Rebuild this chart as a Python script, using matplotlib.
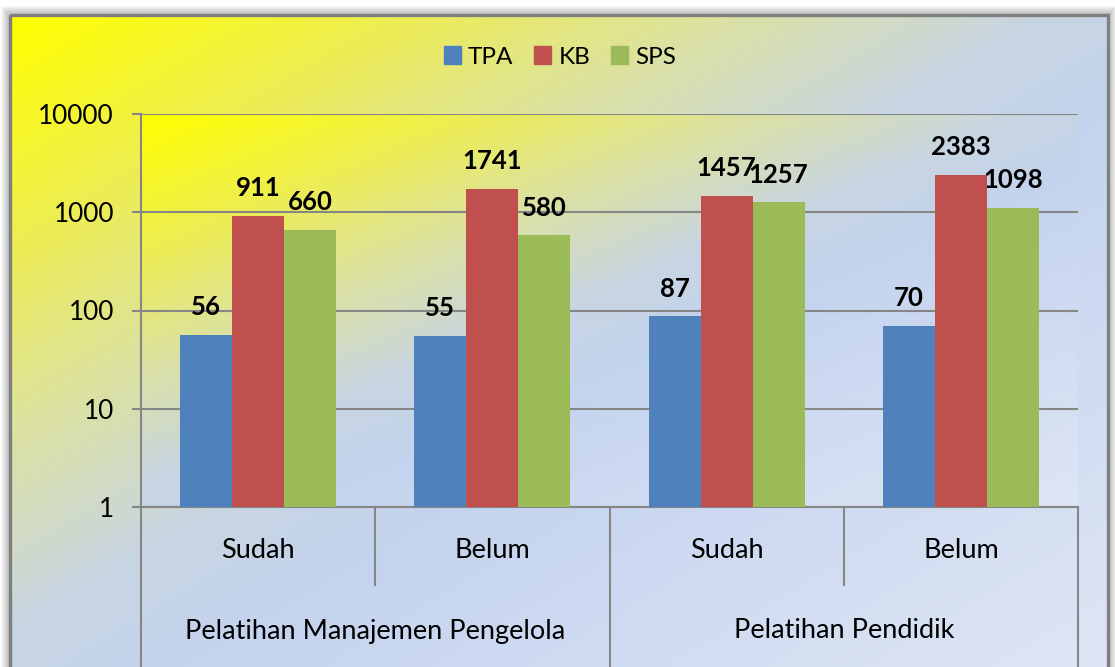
import numpy as np
import matplotlib.pyplot as plt
from matplotlib.colors import LinearSegmentedColormap
from matplotlib.patches import Rectangle, Patch
from matplotlib.ticker import NullLocator

plt.rcParams['font.family'] = ['Lato', 'DejaVu Sans']

# data
groups = ['Pelatihan Manajemen Pengelola', 'Pelatihan Pendidik']
status = ['Sudah', 'Belum', 'Sudah', 'Belum']
series = ['TPA', 'KB', 'SPS']
tpa = [56, 55, 87, 70]
kb = [911, 1741, 1457, 2383]
sps = [660, 580, 1257, 1098]
yticks = [1, 10, 100, 1000, 10000]

colors = ['#4F81BD', '#C0504D', '#9BBB59']
grid_col = '#868686'

W, H = 1115, 667
fig = plt.figure(figsize=(W / 100, H / 100), dpi=100)

# excel-like diagonal fill, yellow top-left to pale blue
grad = LinearSegmentedColormap.from_list('fill', [
    (0.0, '#FFFF00'), (0.18, '#EDED55'), (0.32, '#DCE2A0'),
    (0.47, '#C8D5E2'), (0.58, '#C4D3EE'), (1.0, '#DEE6F5')])

def diag(nx=300, ny=200):
    X, Y = np.meshgrid(np.linspace(0, 1, nx), np.linspace(0, 1, ny))
    return (X + Y) / 2

# background layer in pixel coordinates
bg = fig.add_axes([0, 0, 1, 1])
bg.axis('off')
for d in range(1, 10):
    bg.add_patch(Rectangle((10 - d, 15 - d), 1098 + 2 * d, H, color='k',
                           alpha=0.03, lw=0, zorder=0))
bg.imshow(diag(), cmap=grad, vmin=0, vmax=1, extent=(10, 1108, H, 15),
          origin='upper', aspect='auto', zorder=1, interpolation='bilinear')
bg.imshow(diag(), cmap=grad, vmin=0, vmax=1, extent=(141, 1078, 507, 114),
          origin='upper', aspect='auto', zorder=2, interpolation='bilinear')
bg.add_patch(Rectangle((10, 15), 1098, H, fill=False, ec='#7F7F7F', lw=2.4, zorder=3))
bg.set_xlim(0, W)
bg.set_ylim(H, 0)

# plot area
ax = fig.add_axes([141 / W, 1 - 507 / H, (1078 - 141) / W, (507 - 114) / H])
ax.set_facecolor('none')

x = np.arange(len(status))
w = 0.222
for i, (vals, c) in enumerate(zip([tpa, kb, sps], colors)):
    xs = x + (i - 1) * w
    ax.bar(xs, vals, w, color=c, zorder=3, label=series[i])
    for xi, v in zip(xs, vals):
        ax.annotate(str(v), (xi, v), xytext=(0, 20), textcoords='offset points',
                    ha='center', va='center', fontsize=18.5, fontweight='bold',
                    color='black', zorder=5)

ax.set_yscale('log')
ax.set_ylim(1, 10000)
ax.set_xlim(-0.5, len(status) - 0.5)
ax.set_yticks(yticks)
ax.set_yticklabels([str(v) for v in yticks])
ax.yaxis.set_minor_locator(NullLocator())
ax.set_xticks([])
ax.yaxis.grid(True, color=grid_col, lw=1.5)
ax.set_axisbelow(True)
ax.tick_params(axis='y', length=6.5, width=1.5, color=grid_col, pad=13, labelsize=18.8)
for s in ['top', 'right']:
    ax.spines[s].set_visible(False)
for s in ['left', 'bottom']:
    ax.spines[s].set_color(grid_col)
    ax.spines[s].set_linewidth(1.5)

# two-level category axis
tr = ax.get_xaxis_transform()
short, full = 78 / 393, 165 / 393
for xb in [0.5, 2.5]:
    ax.plot([xb, xb], [0, -short], transform=tr, color=grid_col, lw=1.5, clip_on=False)
for xb in [-0.5, 1.5, 3.5]:
    ax.plot([xb, xb], [0, -full], transform=tr, color=grid_col, lw=1.5, clip_on=False)
for xi, s in zip(x, status):
    ax.text(xi, -44 / 393, s, transform=tr, ha='center', va='center', fontsize=19.5)
for gi, g in enumerate(groups):
    ax.text(gi * 2 + 0.5, -124 / 393, g, transform=tr, ha='center', va='center', fontsize=19.5)

handles = [Patch(color=c) for c in colors]
fig.legend(handles, series, loc='center', bbox_to_anchor=(560 / W, 1 - 57 / H),
           ncol=3, frameon=False, fontsize=17.5, handlelength=0.7, handleheight=0.7,
           handletextpad=0.3, columnspacing=0.85)

fig.savefig('out.png', dpi=100)
